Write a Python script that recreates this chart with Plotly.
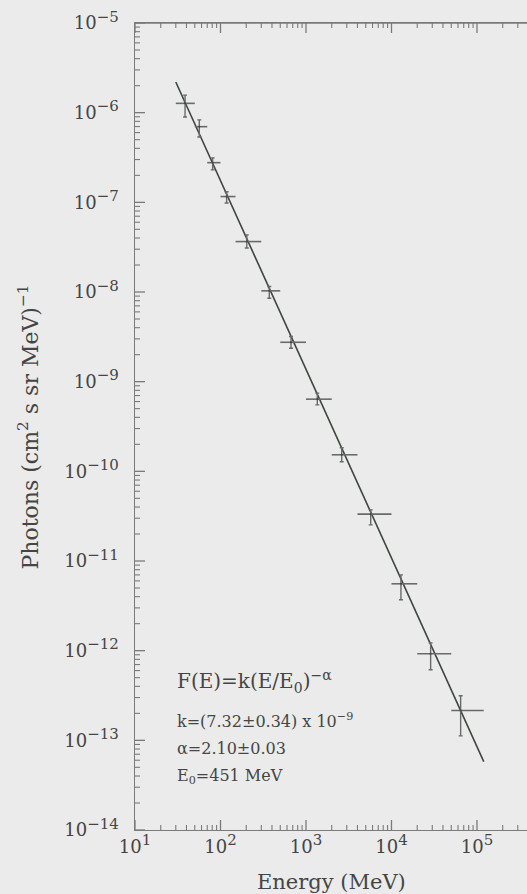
import plotly.graph_objects as go

# ---- data ----
E_center = [38.5, 56.5, 81, 118, 203, 372, 668, 1356, 2616, 5714, 12900, 28700, 64400]
E_lo = [30, 50, 70, 100, 150, 300, 500, 1000, 2000, 4000, 10000, 20000, 50000]
E_hi = [50, 70, 100, 150, 300, 500, 1000, 2000, 4000, 10000, 20000, 50000, 120000]
F = [1.27e-6, 6.98e-7, 2.77e-7, 1.16e-7, 3.65e-8, 1.03e-8, 2.75e-9, 6.38e-10,
     1.53e-10, 3.33e-11, 5.57e-12, 9.23e-13, 2.15e-13]
F_hi = [1.57e-6, 8.3e-7, 3.13e-7, 1.31e-7, 4.34e-8, 1.15e-8, 3.19e-9, 7.45e-10,
        1.83e-10, 3.72e-11, 7.0e-12, 1.22e-12, 3.14e-13]
F_lo = [8.95e-7, 5.36e-7, 2.30e-7, 9.84e-8, 3.10e-8, 8.53e-9, 2.36e-9, 5.51e-10,
        1.28e-10, 2.53e-11, 3.69e-12, 6.12e-13, 1.12e-13]

fit_E = [30, 120000]
fit_F = [2.2e-6, 5.8e-14]

x_exponents = [1, 2, 3, 4, 5]
y_exponents = [-14, -13, -12, -11, -10, -9, -8, -7, -6, -5]

X_RANGE = [1, 5.585]
Y_RANGE = [-14, -5]

# ---- derived ----
ex_plus = [h - c for h, c in zip(E_hi, E_center)]
ex_minus = [c - l for c, l in zip(E_center, E_lo)]
ey_plus = [h - c for h, c in zip(F_hi, F)]
ey_minus = [c - l for c, l in zip(F, F_lo)]

SUP = "<sup><span style='font-size:15px'>{}</span></sup>"
x_tickvals = [10.0 ** e for e in x_exponents]
x_ticktext = ["10" + SUP.format(e) for e in x_exponents]
y_tickvals = [10.0 ** e for e in y_exponents]
y_ticktext = ["10" + SUP.format("\u2212" + str(abs(e))) + "  " for e in y_exponents]

x_minor = [m * 10.0 ** e for e in range(1, 6) for m in range(2, 10)
           if m * 10.0 ** e <= 10 ** X_RANGE[1]]
y_minor = [m * 10.0 ** e for e in range(-14, -5) for m in range(2, 10)]

BG = "#ebebeb"
INK = "#3e463e"
AX = "#7a7a7a"
TXT = "#454545"
FONT = "DejaVu Serif"

W, H = 527, 894
ML, MR, MT, MB = 135, 0, 23, 64
PW, PH = W - ML - MR, H - MT - MB

fig = go.Figure()

fig.add_trace(go.Scatter(
    x=fit_E, y=fit_F, mode="lines",
    line=dict(color=INK, width=1.6), showlegend=False, hoverinfo="skip"))

fig.add_trace(go.Scatter(
    x=E_center, y=F, mode="markers",
    marker=dict(size=2, color=INK),
    error_x=dict(type="data", symmetric=False, array=ex_plus, arrayminus=ex_minus,
                 color="#6a6a6a", thickness=1.6, width=0),
    error_y=dict(type="data", symmetric=False, array=ey_plus, arrayminus=ey_minus,
                 color="#6a6a6a", thickness=1.4, width=2),
    showlegend=False))

fig.update_layout(
    width=W, height=H,
    margin=dict(l=ML, r=MR, t=MT, b=MB),
    paper_bgcolor=BG, plot_bgcolor=BG,
    font=dict(family=FONT, color=TXT, size=16),
)

fig.update_xaxes(
    type="log", range=X_RANGE,
    tickmode="array", tickvals=x_tickvals, ticktext=x_ticktext, ticks="",
    showline=True, linecolor=AX, linewidth=1.3, mirror=True,
    showgrid=False, zeroline=False,
    tickfont=dict(family=FONT, size=18, color=TXT),
)
fig.update_yaxes(
    type="log", range=Y_RANGE,
    tickmode="array", tickvals=y_tickvals, ticktext=y_ticktext, ticks="",
    showline=True, linecolor=AX, linewidth=1.3,
    showgrid=False, zeroline=False,
    tickfont=dict(family=FONT, size=18, color=TXT),
)

# tick marks (inside), placed through the axes' own log scales
shapes = []
def xtick(v, length, width):
    L = length / PH
    for y0, y1 in ((0, L), (1 - L, 1)):
        shapes.append(dict(type="line", xref="x", yref="y domain", x0=v, x1=v,
                           y0=y0, y1=y1, line=dict(color=AX, width=width)))
def ytick(v, length, width):
    L = length / PW
    shapes.append(dict(type="line", xref="x domain", yref="y", x0=0, x1=L,
                       y0=v, y1=v, line=dict(color=AX, width=width)))
for v in x_tickvals:
    xtick(v, 10, 1.3)
for v in x_minor:
    xtick(v, 5, 1.1)
for v in y_tickvals:
    ytick(v, 10, 1.3)
for v in y_minor:
    ytick(v, 5, 1.1)
# top frame line
shapes.append(dict(type="line", xref="x domain", yref="y domain", x0=0, x1=1,
                   y0=1, y1=1, line=dict(color=AX, width=1.3)))
fig.update_layout(shapes=shapes)

ann = [
    dict(text="F(E)=k(E/E<sub>0</sub>)<sup>\u2212\u03b1</sup>", x=0.102, y=0.1834, size=20),
    dict(text="k=(7.32\u00b10.34) x 10<sup>\u22129</sup>", x=0.102, y=0.1363, size=16),
    dict(text="\u03b1=2.10\u00b10.03", x=0.102, y=0.1016, size=16),
    dict(text="E<sub>0</sub>=451 MeV", x=0.102, y=0.0657, size=16),
]
for a in ann:
    fig.add_annotation(text=a["text"], xref="paper", yref="paper", x=a["x"], y=a["y"],
                       xanchor="left", yanchor="middle", showarrow=False,
                       font=dict(family=FONT, size=a["size"], color=TXT))

fig.add_annotation(text="Energy (MeV)", xref="paper", yref="paper", x=0.5, y=-0.0644,
                   xanchor="center", yanchor="middle", showarrow=False,
                   font=dict(family=FONT, size=21, color=TXT))
fig.add_annotation(text="Photons (cm<sup>2</sup> s sr MeV)<sup>\u22121</sup>",
                   xref="paper", yref="paper", x=-0.273, y=0.5, textangle=-90,
                   xanchor="center", yanchor="middle", showarrow=False,
                   font=dict(family=FONT, size=22, color=TXT))

fig.write_html("out.html")
